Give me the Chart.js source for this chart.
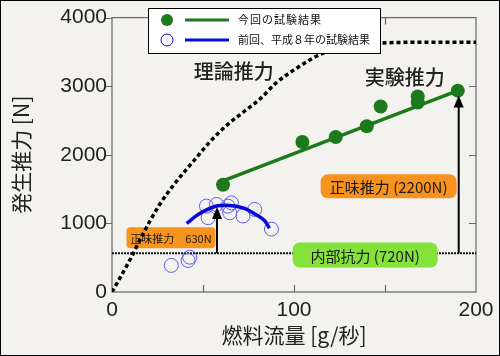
<!DOCTYPE html>
<html>
<head>
<meta charset="utf-8">
<script src="https://cdn.jsdelivr.net/npm/chart.js@4/dist/chart.umd.min.js"></script>
<style>
  body { margin: 0; background: #f3f2ee; }
  canvas { display: block; }
</style>
</head>
<body>
<canvas id="thrustChart" width="500" height="356"></canvas>
<script>
// theoretical thrust curve (dashed black)
const theoryFlow = [0, 9.7, 17, 26.2, 35.4, 44.5, 53.7, 62.9, 72, 81.2, 90.3, 101.3, 116, 130.6, 147, 165, 200];
const theoryThrust = [0, 460, 845, 1276, 1612, 1899, 2187, 2427, 2619, 2810, 3050, 3260, 3482, 3578, 3626, 3640, 3640];

// this test (green dots + fitted line)
const currentFlow = [61, 104.6, 122.9, 140, 147.6, 168, 168, 190];
const currentThrust = [1564, 2187, 2259, 2417, 2705, 2849, 2763, 2935];
const fitFlow = [61, 190];
const fitThrust = [1620, 2935];

// previous test, 1996 (open blue circles + curve)
const prevFlow = [32.6, 41.8, 42.7, 51.9, 52.8, 57.4, 63.7, 65.6, 64.7, 72, 78.4, 87.6];
const prevThrust = [388, 460, 508, 1252, 1083, 1276, 1252, 1299, 1155, 1108, 1204, 917];
const arcFlow = [41, 48, 57, 63, 72, 79, 84, 86.5];
const arcThrust = [1000, 1140, 1250, 1265, 1225, 1130, 1035, 930];

// internal drag level
const dragLevel = 565;
const xTicks = [0, 100, 200];
const yTicks = [0, 1000, 2000, 3000, 4000];

const toPts = (xs, ys) => xs.map((x, i) => ({ x, y: ys[i] }));

const GREEN = '#1c7a1c';
const BLUE = '#0808d8';
const JP = '"Noto Sans CJK JP", sans-serif';

function roundBox(ctx, cx, cy, w, h, r, fill) {
  ctx.beginPath();
  ctx.roundRect(cx - w / 2, cy - h / 2, w, h, r);
  ctx.fillStyle = fill;
  ctx.fill();
}

function arrow(ctx, x, y0, y1) {
  ctx.strokeStyle = '#000';
  ctx.fillStyle = '#000';
  ctx.lineWidth = 2;
  ctx.beginPath();
  ctx.moveTo(x, y0);
  ctx.lineTo(x, y1 + 10);
  ctx.stroke();
  ctx.beginPath();
  ctx.moveTo(x, y1);
  ctx.lineTo(x - 5, y1 + 12);
  ctx.lineTo(x + 5, y1 + 12);
  ctx.closePath();
  ctx.fill();
}

const decor = {
  id: 'decor',
  beforeDatasetsDraw(chart) {
    const { ctx, chartArea: a, scales: { x, y } } = chart;
    ctx.save();
    // plot frame
    ctx.strokeStyle = '#666';
    ctx.lineWidth = 1.2;
    ctx.strokeRect(a.left, a.top, a.right - a.left, a.bottom - a.top);
    // ticks
    ctx.beginPath();
    [50, 100, 150].forEach(v => {
      const px = Math.round(x.getPixelForValue(v)) + 0.5;
      ctx.moveTo(px, a.bottom); ctx.lineTo(px, a.bottom - 7);
      ctx.moveTo(px, a.top); ctx.lineTo(px, a.top + 7);
    });
    [1000, 2000, 3000, 4000].forEach(v => {
      const py = Math.round(y.getPixelForValue(v)) + 0.5;
      ctx.moveTo(a.left, py); ctx.lineTo(a.left - 6, py);
      if (v < 4000) { ctx.moveTo(a.right, py); ctx.lineTo(a.right - 7, py); }
    });
    ctx.stroke();

    // small net-thrust box sits under the theory curve
    ctx.textAlign = 'center';
    ctx.textBaseline = 'middle';
    const cx = x.getPixelForValue(32.4), cy = y.getPixelForValue(791);
    roundBox(ctx, cx, cy, 89, 21, 4, '#f7941d');
    ctx.fillStyle = '#1a1a1a';
    ctx.font = '11px ' + JP;
    ctx.fillText('正味推力　630N', cx, cy + 1);
    ctx.restore();
  },
  afterDatasetsDraw(chart) {
    const { ctx, scales: { x, y } } = chart;
    ctx.save();
    const dragY = y.getPixelForValue(dragLevel);

    // net thrust arrows
    arrow(ctx, x.getPixelForValue(57.7), dragY, y.getPixelForValue(1240));
    arrow(ctx, x.getPixelForValue(190.5), dragY, y.getPixelForValue(2865));

    // text labels
    ctx.fillStyle = '#222';
    ctx.textAlign = 'center';
    ctx.textBaseline = 'middle';
    ctx.font = '500 20px ' + JP;
    ctx.fillText('理論推力', x.getPixelForValue(66.9), y.getPixelForValue(3219));
    ctx.fillText('実験推力', x.getPixelForValue(160.8), y.getPixelForValue(3122));

    // label boxes
    let cx = x.getPixelForValue(152), cy = y.getPixelForValue(1540);
    roundBox(ctx, cx, cy, 136, 24, 7, '#f6921e');
    ctx.fillStyle = '#1a1a1a';
    ctx.font = '15px ' + JP;
    ctx.fillText('正味推力 (2200N)', cx, cy + 1);

    cx = x.getPixelForValue(139.1); cy = y.getPixelForValue(540);
    roundBox(ctx, cx, cy, 145, 25, 7, '#84e23a');
    ctx.fillStyle = '#1a1a1a';
    ctx.fillText('内部抗力 (720N)', cx, cy + 1);

    // legend
    ctx.fillStyle = '#fff';
    ctx.fillRect(148.5, 8.5, 232, 45);
    ctx.strokeStyle = '#000';
    ctx.lineWidth = 1;
    ctx.strokeRect(148.5, 8.5, 232, 45);
    ctx.beginPath();
    ctx.arc(167, 20, 6, 0, Math.PI * 2);
    ctx.fillStyle = GREEN;
    ctx.fill();
    ctx.beginPath();
    ctx.arc(167, 40, 6, 0, Math.PI * 2);
    ctx.strokeStyle = BLUE;
    ctx.stroke();
    ctx.lineWidth = 3;
    ctx.strokeStyle = GREEN;
    ctx.beginPath(); ctx.moveTo(185, 20); ctx.lineTo(229, 20); ctx.stroke();
    ctx.strokeStyle = BLUE;
    ctx.beginPath(); ctx.moveTo(185, 40); ctx.lineTo(229, 40); ctx.stroke();
    ctx.fillStyle = '#111';
    ctx.textAlign = 'left';
    ctx.font = '11px ' + JP;
    ctx.letterSpacing = '1px';
    ctx.fillText('今回の試験結果', 238, 20);
    ctx.letterSpacing = '0px';
    ctx.fillText('前回、平成８年の試験結果', 238, 40);

    // outer border
    ctx.strokeStyle = '#000';
    ctx.lineWidth = 1;
    ctx.strokeRect(0.5, 0.5, chart.width - 1, chart.height - 1);
    ctx.restore();
  }
};

new Chart(document.getElementById('thrustChart'), {
  type: 'scatter',
  data: {
    datasets: [
      {
        label: '内部抗力',
        data: [{ x: 0, y: dragLevel }, { x: 200, y: dragLevel }],
        showLine: true,
        borderColor: '#111',
        borderWidth: 2,
        borderDash: [2, 1],
        pointRadius: 0,
        order: 6
      },
      {
        label: '理論推力',
        data: toPts(theoryFlow, theoryThrust),
        showLine: true,
        borderColor: '#000',
        borderWidth: 3.5,
        borderDash: [4, 3],
        cubicInterpolationMode: 'monotone',
        pointRadius: 0,
        order: 5
      },
      {
        label: '前回、平成８年の試験結果',
        data: toPts(prevFlow, prevThrust),
        pointRadius: 7,
        pointBorderWidth: 1,
        pointBackgroundColor: 'rgba(0,0,0,0)',
        pointBorderColor: '#5c5cee',
        order: 4
      },
      {
        label: '前回 曲線',
        data: toPts(arcFlow, arcThrust),
        showLine: true,
        borderColor: BLUE,
        borderWidth: 3.5,
        cubicInterpolationMode: 'monotone',
        pointRadius: 0,
        order: 3
      },
      {
        label: '今回 直線',
        data: toPts(fitFlow, fitThrust),
        showLine: true,
        borderColor: GREEN,
        borderWidth: 3.5,
        pointRadius: 0,
        order: 2
      },
      {
        label: '今回の試験結果',
        data: toPts(currentFlow, currentThrust),
        pointRadius: 7,
        pointBackgroundColor: GREEN,
        pointBorderColor: GREEN,
        pointBorderWidth: 0,
        order: 1
      }
    ]
  },
  options: {
    responsive: false,
    animation: false,
    layout: { padding: { top: 14, right: 24, left: 0, bottom: 0 } },
    plugins: { legend: { display: false }, tooltip: { enabled: false } },
    scales: {
      x: {
        min: 0, max: 200,
        afterFit: s => { s.height = 64; },
        afterBuildTicks: s => { s.ticks = xTicks.map(v => ({ value: v })); },
        grid: { display: false, drawTicks: false },
        border: { display: false },
        ticks: {
          color: '#222', padding: 6,
          font: { family: 'Liberation Sans', size: 21 },
          callback: v => String(v)
        },
        title: {
          display: true, text: '燃料流量 [g/秒]', color: '#222',
          padding: { top: 0, bottom: 8 },
          font: { family: JP, size: 21 }
        }
      },
      y: {
        min: 0, max: 4000,
        afterFit: s => { s.width = 112; },
        afterBuildTicks: s => { s.ticks = yTicks.map(v => ({ value: v })); },
        grid: { display: false, drawTicks: false },
        border: { display: false },
        ticks: {
          color: '#222', padding: 5,
          font: { family: 'Liberation Sans', size: 21 },
          callback: v => String(v)
        },
        title: {
          display: true, text: '発生推力 [N]', color: '#222',
          padding: { top: 8, bottom: 0 },
          font: { family: JP, size: 21 }
        }
      }
    }
  },
  plugins: [decor]
});
</script>
</body>
</html>
